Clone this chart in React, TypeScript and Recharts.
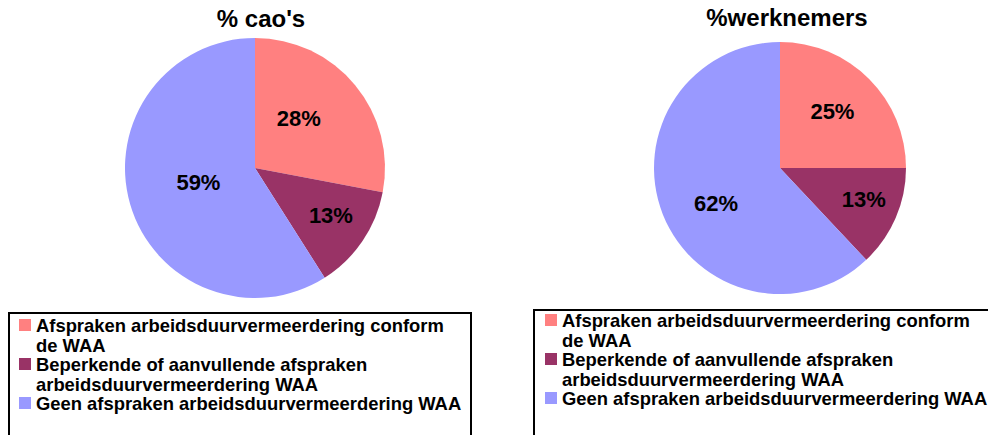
import { PieChart, Pie, Cell } from 'recharts';

const categories = [
  'Afspraken arbeidsduurvermeerdering conform de WAA',
  'Beperkende of aanvullende afspraken arbeidsduurvermeerdering WAA',
  'Geen afspraken arbeidsduurvermeerdering WAA',
];
const caoValues = [28, 13, 59];
const werknemerValues = [25, 13, 62];
const titles = ["% cao's", '%werknemers'];

const COLORS = ['#FF8080', '#993366', '#9999FF'];
const FONT = '"Liberation Sans", Arial, sans-serif';
const RAD = Math.PI / 180;

// label tweaks per slice: angle shift (deg) and radius fraction
const LEFT_LABELS = [
  { a: 9, r: 0.51 },
  { a: 2, r: 0.69 },
  { a: -1.5, r: 0.45 },
];
const RIGHT_LABELS = [
  { a: 2, r: 0.61 },
  { a: 3, r: 0.71 },
  { a: 7.4, r: 0.58 },
];

function makeLabel(tweaks: { a: number; r: number }[]) {
  return (p: any) => {
    const t = tweaks[p.index];
    const ang = (p.midAngle + t.a) * RAD;
    const rr = p.outerRadius * t.r;
    const x = p.cx + rr * Math.cos(-ang);
    const y = p.cy + rr * Math.sin(-ang);
    return (
      <text x={x} y={y} textAnchor="middle" dominantBaseline="central"
        fontFamily={FONT} fontWeight="bold" fontSize={22} fill="#000">
        {`${p.value}%`}
      </text>
    );
  };
}

function LegendBox({ left, top, sqLeft, textLeft, padTop }: any) {
  return (
    <div style={{
      position: 'absolute', left, top, width: 464, height: 140, boxSizing: 'border-box',
      border: '2px solid #000', background: '#fff', fontFamily: FONT, fontWeight: 'bold',
      fontSize: 18.4, lineHeight: '19.5px', color: '#000', paddingTop: padTop,
    }}>
      {categories.map((c, i) => (
        <div key={c} style={{ position: 'relative' }}>
          <div style={{ position: 'absolute', left: sqLeft, top: 3, width: 12, height: 12, background: COLORS[i] }} />
          <div style={{ marginLeft: textLeft, width: 432 }}>{c}</div>
        </div>
      ))}
    </div>
  );
}

export default function App() {
  const caoData = categories.map((name, i) => ({ name, value: caoValues[i] }));
  const wnData = categories.map((name, i) => ({ name, value: werknemerValues[i] }));

  return (
    <div style={{ position: 'absolute', left: 0, top: 0, width: 988, height: 435, overflow: 'hidden', background: '#fff' }}>
      <div style={{ position: 'absolute', left: 0, top: 0 }}>
        <PieChart width={494} height={305} margin={{ top: 0, right: 0, bottom: 0, left: 0 }}>
          <Pie data={caoData} dataKey="value" nameKey="name" cx={255} cy={168} outerRadius={130}
            startAngle={90} endAngle={-270} stroke="none" labelLine={false}
            label={makeLabel(LEFT_LABELS)} isAnimationActive={false}>
            {caoData.map((d, i) => <Cell key={d.name} fill={COLORS[i]} />)}
          </Pie>
        </PieChart>
      </div>
      <div style={{ position: 'absolute', left: 494, top: 0 }}>
        <PieChart width={494} height={305} margin={{ top: 0, right: 0, bottom: 0, left: 0 }}>
          <Pie data={wnData} dataKey="value" nameKey="name" cx={286} cy={168} outerRadius={126}
            startAngle={90} endAngle={-270} stroke="none" labelLine={false}
            label={makeLabel(RIGHT_LABELS)} isAnimationActive={false}>
            {wnData.map((d, i) => <Cell key={d.name} fill={COLORS[i]} />)}
          </Pie>
        </PieChart>
      </div>

      <div style={{ position: 'absolute', left: 161, top: 3, width: 200, textAlign: 'center', fontFamily: FONT, fontWeight: 'bold', fontSize: 24, lineHeight: '32px' }}>
        {titles[0]}
      </div>
      <div style={{ position: 'absolute', left: 687, top: 2, width: 200, textAlign: 'center', fontFamily: FONT, fontWeight: 'bold', fontSize: 24, lineHeight: '32px' }}>
        {titles[1]}
      </div>

      <LegendBox left={8} top={312} sqLeft={9} textLeft={26} padTop={2} />
      <LegendBox left={533} top={309} sqLeft={10} textLeft={27} padTop={0} />
    </div>
  );
}
